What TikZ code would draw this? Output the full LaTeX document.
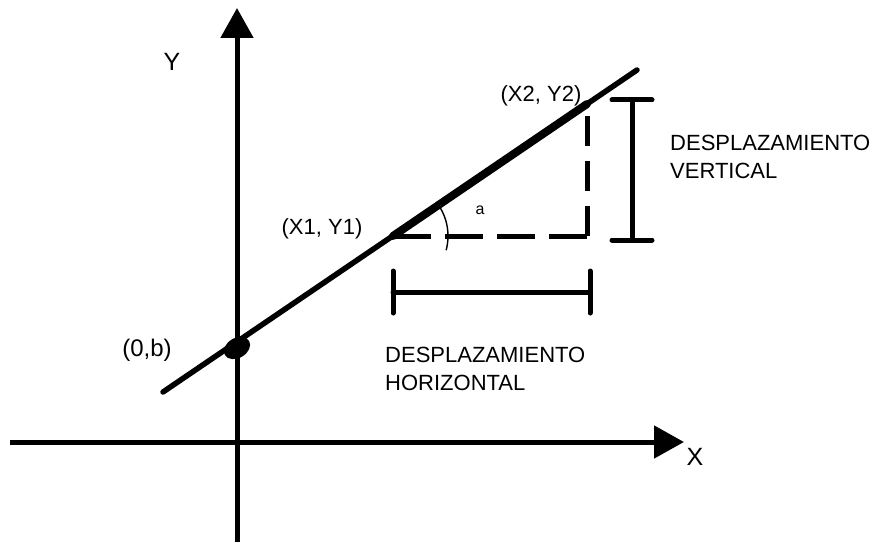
\documentclass[tikz,border=0pt]{standalone}
\usepackage{fontspec}
\setmainfont{Liberation Sans}
\usetikzlibrary{arrows.meta,shapes.geometric}

\begin{document}
\begin{tikzpicture}[x=1pt,y=1pt,
axis/.style={line width=5pt,-{Triangle[length=30pt,width=32pt]}},
slope/.style={line width=5.5pt,line cap=round},
guide/.style={line width=5pt,dash pattern=on 38pt off 14pt},
bar/.style={line width=5pt,line cap=round},
dot/.style={ellipse,fill,minimum width=28pt,minimum height=20pt,inner sep=0pt,rotate=30},
lbl/.style={font=\fontsize{22}{28}\selectfont,inner sep=0pt},
every node/.style={inner sep=0pt}]
\useasboundingbox (0,0) rectangle (874,542);
% axes
\coordinate (xstart) at (10,100);
\coordinate (xend) at (684,100);
\coordinate (ybot) at (237,0);
\coordinate (ytop) at (237,534);
\draw[axis] (xstart) -- (xend);
\draw[axis] (ybot) -- (ytop);
\node[lbl,font=\fontsize{25}{28}\selectfont] (xlabel) at (695,85) {X};
\node[lbl,font=\fontsize{25}{28}\selectfont] (ylabel) at (172,480) {Y};
% the straight line
\coordinate (lstart) at (163,150);
\coordinate (lend) at (637,472);
\coordinate (p1) at (393,306);
\coordinate (p2) at (587,438);
\coordinate (corner) at (587,306);
\draw[slope] (lstart) -- (lend);
\draw[slope,line width=8pt] (p1) -- (p2);
\node[dot] (bpt) at (237,194) {};
\node[lbl,font=\fontsize{24}{28}\selectfont] (blabel) at (147,192) {(0,b)};
\node[lbl] (p1label) at (322,313) {(X1, Y1)};
\node[lbl] (p2label) at (541,446) {(X2, Y2)};
% rise and run
\draw[guide] (p1) -- (corner);
\draw[guide,dash pattern=on 30pt off 15pt] (corner) -- (p2);
\draw[line width=1.4pt] ([shift={(-15:55)}]p1) arc[start angle=-15,end angle=35,radius=55];
\node[lbl,font=\fontsize{16}{18}\selectfont] (alabel) at (480,332) {a};
% vertical bracket
\coordinate (vtop) at (632,442);
\coordinate (vbot) at (632,302);
\draw[bar] (vtop) -- (vbot);
\draw[bar] ([xshift=-20pt]vtop) -- ([xshift=20pt]vtop);
\draw[bar] ([xshift=-20pt]vbot) -- ([xshift=20pt]vbot);
\node[lbl,anchor=west,align=left] (vlabel) at (670,385) {DESPLAZAMIENTO\\VERTICAL};
% horizontal bracket
\coordinate (hleft) at (393,250);
\coordinate (hright) at (590,250);
\draw[bar] (hleft) -- (hright);
\draw[bar] ([yshift=-21pt]hleft) -- ([yshift=21pt]hleft);
\draw[bar] ([yshift=-21pt]hright) -- ([yshift=21pt]hright);
\node[lbl,anchor=west,align=left] (hlabel) at (385,173) {DESPLAZAMIENTO\\HORIZONTAL};
\end{tikzpicture}
\end{document}
